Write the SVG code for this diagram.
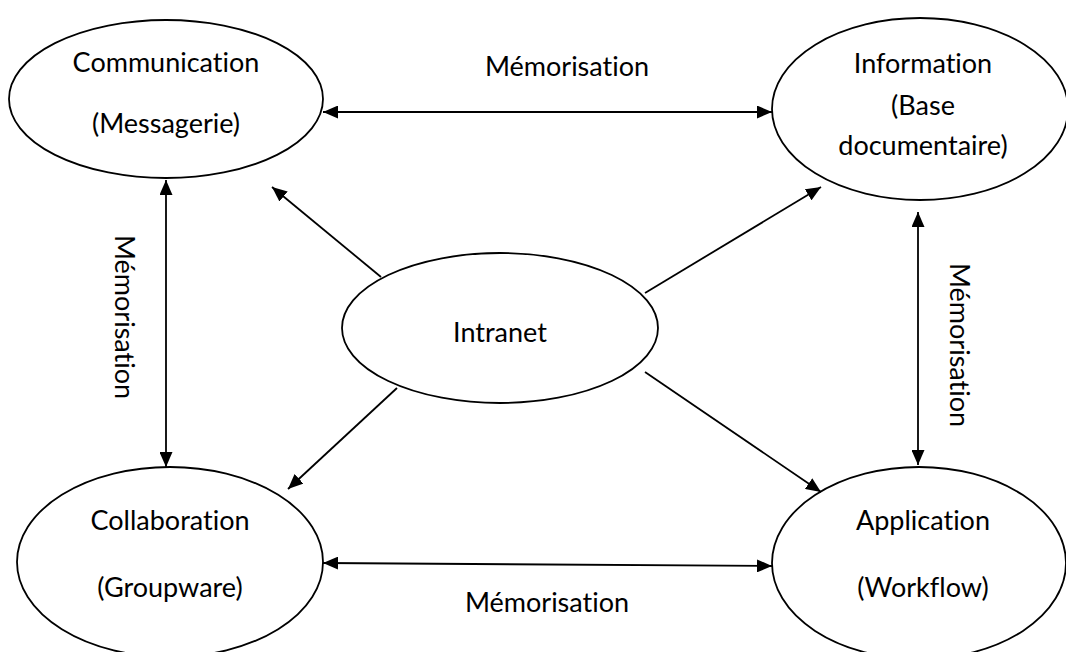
<svg xmlns="http://www.w3.org/2000/svg" width="1066" height="652" viewBox="0 0 1066 652">
<defs>
<style>
.n{fill:#fff;stroke:#000;stroke-width:1.8}
.t{font-family:Lato,"Open Sans",sans-serif;font-size:27px;fill:#000;text-anchor:middle;font-variant-ligatures:none;font-feature-settings:"liga" 0}
.c{stroke:#000;stroke-width:1.8;fill:none}
</style>
<marker id="ah" viewBox="0 0 15 13" refX="15" refY="6.5" markerWidth="15" markerHeight="13" markerUnits="userSpaceOnUse" orient="auto-start-reverse">
<path d="M0,0 L15,6.5 L0,13 Z" fill="#000"/>
</marker>
</defs>
<rect width="1066" height="652" fill="#fff"/>
<g id="communication">
<ellipse class="n" cx="166" cy="99" rx="157" ry="79"/>
<text class="t" x="166" y="72">Communication</text>
<text class="t" x="166" y="133">(Messagerie)</text>
</g>
<g id="information">
<ellipse class="n" cx="920" cy="109" rx="148" ry="91"/>
<text class="t" x="923" y="73">Information</text>
<text class="t" x="923" y="115">(Base</text>
<text class="t" x="923" y="155">documentaire)</text>
</g>
<g id="intranet">
<ellipse class="n" cx="500" cy="328" rx="158" ry="75"/>
<text class="t" x="500" y="342">Intranet</text>
</g>
<g id="collaboration">
<ellipse class="n" cx="170" cy="562" rx="153" ry="95"/>
<text class="t" x="170" y="530">Collaboration</text>
<text class="t" x="170" y="597">(Groupware)</text>
</g>
<g id="application">
<ellipse class="n" cx="919" cy="563" rx="147" ry="96"/>
<text class="t" x="923" y="530">Application</text>
<text class="t" x="923" y="597">(Workflow)</text>
</g>
<g id="connectors">
<line class="c" x1="323" y1="112" x2="772" y2="112" marker-start="url(#ah)" marker-end="url(#ah)"/>
<line class="c" x1="166" y1="180" x2="166" y2="467" marker-start="url(#ah)" marker-end="url(#ah)"/>
<line class="c" x1="918" y1="212" x2="918" y2="465" marker-start="url(#ah)" marker-end="url(#ah)"/>
<line class="c" x1="323" y1="563" x2="772" y2="566" marker-start="url(#ah)" marker-end="url(#ah)"/>
<line class="c" x1="381" y1="277" x2="272" y2="187" marker-end="url(#ah)"/>
<line class="c" x1="397" y1="388" x2="288" y2="489" marker-end="url(#ah)"/>
<line class="c" x1="645" y1="293" x2="821" y2="187" marker-end="url(#ah)"/>
<line class="c" x1="645" y1="372" x2="821" y2="492" marker-end="url(#ah)"/>
<text class="t" x="567" y="76">Mémorisation</text>
<text class="t" x="547" y="612">Mémorisation</text>
<text class="t" transform="translate(115,317) rotate(90)">Mémorisation</text>
<text class="t" transform="translate(950,345) rotate(90)">Mémorisation</text>
</g>
</svg>
